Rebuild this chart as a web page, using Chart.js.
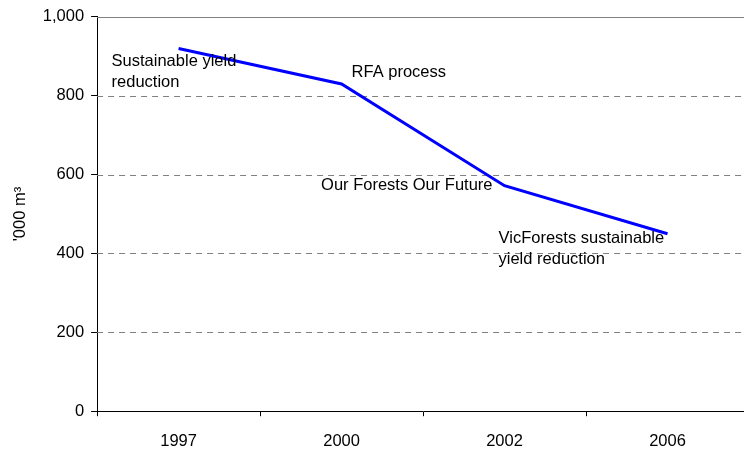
<!DOCTYPE html>
<html>
<head>
<meta charset="utf-8">
<script src="https://cdn.jsdelivr.net/npm/chart.js@4.4.0/dist/chart.umd.min.js"></script>
<style>
  html, body { margin: 0; padding: 0; overflow: hidden; background: #fff; }
  #wrap { width: 752px; height: 466px; }
</style>
</head>
<body>
<div id="wrap"><canvas id="chart"></canvas></div>
<script>
const years = ["1997", "2000", "2002", "2006"];
const volumes = [920, 830, 572, 450];
const yTicks = [0, 200, 400, 600, 800, 1000];
const notes = [
  ["Sustainable yield", "reduction"],
  ["RFA process"],
  ["Our Forests Our Future"],
  ["VicForests sustainable", "yield reduction"],
];

// where each note sits relative to its point (px)
const noteOffsets = [
  { dx: -67, dy: 13, align: "left" },
  { dx: 10, dy: -11, align: "left" },
  { dx: -12, dy: 0, align: "right" },
  { dx: -169, dy: 5, align: "left" },
];

const font = "Liberation Sans, Arial, sans-serif";
const fontSize = 16.5;

// dashed horizontal gridlines, solid at the top
const gridPlugin = {
  id: "grid",
  beforeDatasetsDraw(chart) {
    const { ctx, chartArea, scales } = chart;
    ctx.save();
    ctx.strokeStyle = "#808080";
    ctx.lineWidth = 1;
    yTicks.forEach((v) => {
      if (v === 0) return;
      const y = Math.round(scales.y.getPixelForValue(v)) + 0.5;
      ctx.setLineDash(v === 1000 ? [] : [6, 5]);
      ctx.beginPath();
      ctx.moveTo(chartArea.left, y);
      ctx.lineTo(chartArea.right, y);
      ctx.stroke();
    });
    ctx.restore();
  },
};

const notesPlugin = {
  id: "notes",
  afterDatasetsDraw(chart) {
    const { ctx, scales } = chart;
    ctx.save();
    ctx.fillStyle = "#000";
    ctx.font = fontSize + "px " + font;
    ctx.textBaseline = "middle";
    notes.forEach((lines, i) => {
      const o = noteOffsets[i];
      const x = scales.x.getPixelForValue(i) + o.dx;
      const y = scales.y.getPixelForValue(volumes[i]) + o.dy;
      ctx.textAlign = o.align;
      lines.forEach((t, k) => ctx.fillText(t, x, y + k * 21));
    });
    ctx.restore();
  },
};

new Chart(document.getElementById("chart"), {
  type: "line",
  data: {
    labels: years,
    datasets: [
      {
        data: volumes,
        borderColor: "#0000ff",
        borderWidth: 3,
        pointRadius: 0,
        tension: 0,
        fill: false,
      },
    ],
  },
  options: {
    responsive: true,
    maintainAspectRatio: false,
    animation: false,
    layout: { padding: { top: 7, right: 3, bottom: 0, left: 7 } },
    plugins: { legend: { display: false }, tooltip: { enabled: false } },
    scales: {
      x: {
        offset: true,
        grid: { offset: true, color: "transparent", tickColor: "#000", tickLength: 5 },
        border: { color: "#000", width: 1 },
        ticks: { color: "#000", font: { family: font, size: fontSize }, padding: 15, maxRotation: 0 },
      },
      y: {
        min: 0,
        max: 1000,
        afterBuildTicks: (axis) => { axis.ticks = yTicks.map((v) => ({ value: v })); },
        grid: { color: "transparent", tickColor: "#000", tickLength: 6 },
        border: { color: "#000", width: 1 },
        ticks: {
          color: "#000",
          font: { family: font, size: fontSize },
          padding: 7,
          callback: (v) => v.toLocaleString("en-US"),
        },
        title: {
          display: true,
          text: "'000 m\u00b3",
          color: "#000",
          font: { family: font, size: fontSize },
          padding: { bottom: 5 },
        },
      },
    },
  },
  plugins: [gridPlugin, notesPlugin],
});
</script>
</body>
</html>
